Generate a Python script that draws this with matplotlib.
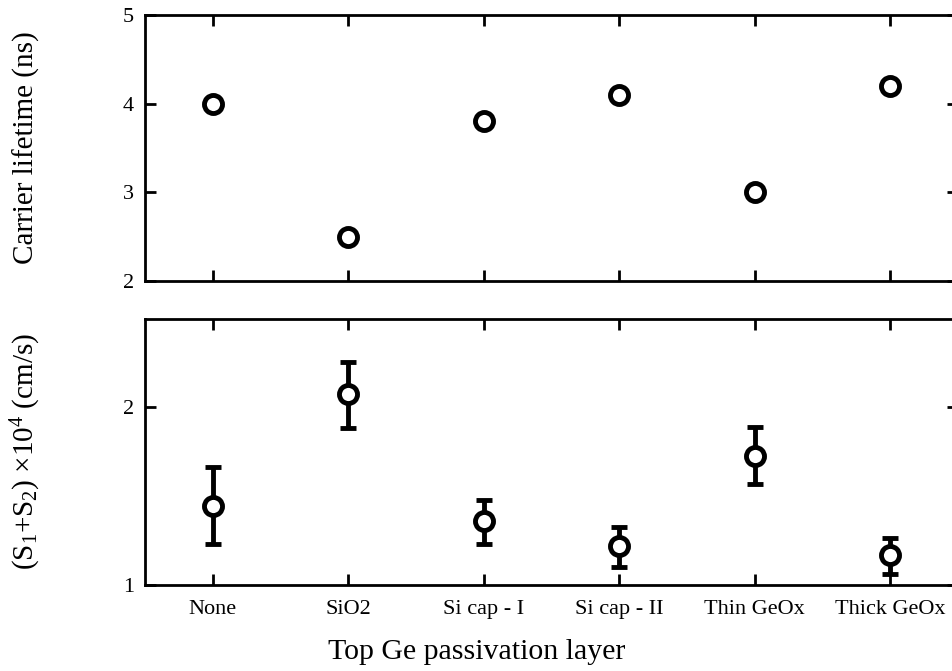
import matplotlib
matplotlib.use("Agg")
import matplotlib.pyplot as plt
from matplotlib.ticker import FixedLocator, NullLocator, FixedFormatter

plt.rcParams['font.family'] = ['Liberation Serif', 'DejaVu Serif']
plt.rcParams['mathtext.fontset'] = 'custom'
plt.rcParams['mathtext.rm'] = 'Liberation Serif'
plt.rcParams['mathtext.it'] = 'Liberation Serif:italic'

layers = ["None", "SiO2", "Si cap - I", "Si cap - II", "Thin GeOx", "Thick GeOx"]
lifetime = [4.0, 2.5, 3.8, 4.1, 3.0, 4.2]
s_sum = [1.36, 2.10, 1.28, 1.16, 1.65, 1.12]
s_upper = [1.58, 2.38, 1.39, 1.25, 1.85, 1.20]
s_lower = [1.17, 1.84, 1.17, 1.07, 1.48, 1.04]


def style_axes(ax):
    for sp in ax.spines.values():
        sp.set_linewidth(2)
    ax.tick_params(direction='in', length=8, width=2, top=True, right=True,
                   labelsize=16, pad=8)
    ax.tick_params(axis='x', pad=11)
    ax.set_xlim(-0.5, len(layers) - 0.5)
    ax.set_xticks(range(len(layers)))


fig = plt.figure(figsize=(9.52, 6.71), dpi=100)
ax1 = fig.add_axes([0.1523, 0.5812, 0.854, 0.3964])
ax2 = fig.add_axes([0.1523, 0.1289, 0.854, 0.3957])

x = list(range(len(layers)))

ax1.plot(x, lifetime, 'o', ms=13, mfc='white', mec='black', mew=3.5, ls='none')
style_axes(ax1)
ax1.set_ylim(2, 5)
ax1.set_yticks([2, 3, 4, 5])
ax1.set_xticklabels([])
ax1.set_ylabel("Carrier lifetime (ns)", fontsize=21)
ax1.yaxis.set_label_coords(-0.129, 0.5)

err_lo = [v - l for v, l in zip(s_sum, s_lower)]
err_hi = [u - v for v, u in zip(s_sum, s_upper)]
ax2.errorbar(x, s_sum, yerr=[err_lo, err_hi], fmt='o', ms=13, mfc='white',
             mec='black', mew=3.5, ecolor='black', elinewidth=3.5,
             capsize=6, capthick=3.5)
style_axes(ax2)
ax2.set_yscale('log')
ax2.set_ylim(1, 2.82)
ax2.yaxis.set_major_locator(FixedLocator([1, 2]))
ax2.yaxis.set_major_formatter(FixedFormatter(["1", "2"]))
ax2.yaxis.set_minor_locator(NullLocator())
ax2.set_xticklabels(layers)
ax2.set_ylabel(r"(S$_1$+S$_2$) ×10$^4$ (cm/s)", fontsize=21)
ax2.yaxis.set_label_coords(-0.125, 0.5)

fig.text(477 / 952, 1 - 652 / 671, "Top Ge passivation layer", fontsize=21.5,
         ha='center', va='center')

fig.savefig("out.png", dpi=100)
